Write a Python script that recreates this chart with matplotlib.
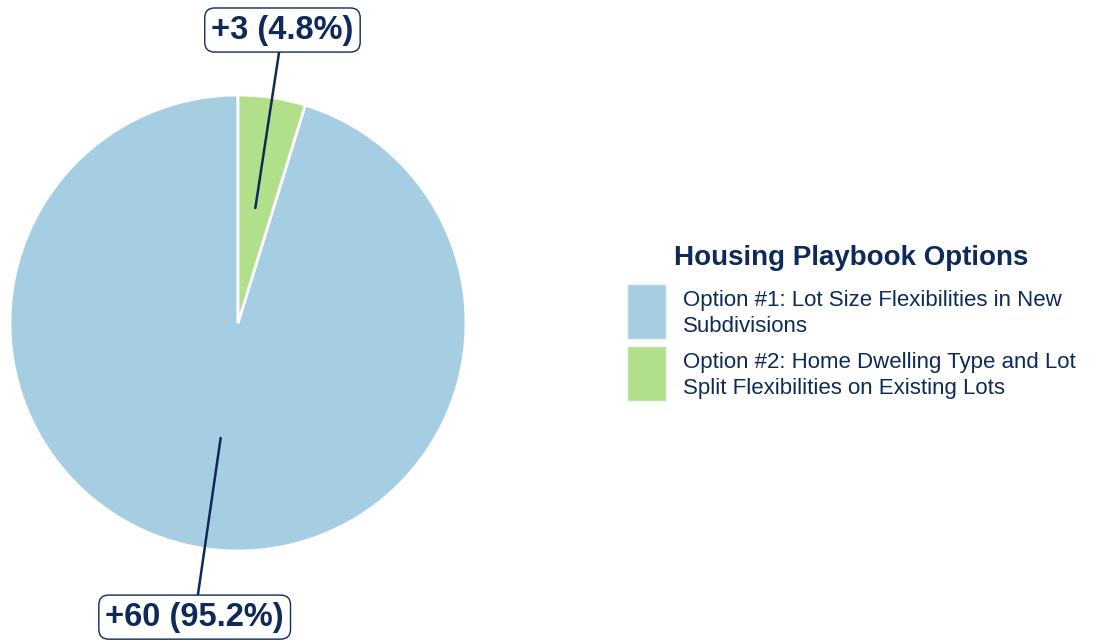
import matplotlib.pyplot as plt
import matplotlib.patches as mpatches
from matplotlib.legend_handler import HandlerPatch
import numpy as np

plt.rcParams['font.family'] = ['Liberation Sans', 'DejaVu Sans']

labels = ['Option #1: Lot Size Flexibilities in New\nSubdivisions',
          'Option #2: Home Dwelling Type and Lot\nSplit Flexibilities on Existing Lots']
counts = [60, 3]
colors = ['#a6cee3', '#b2df8a']
navy = '#0d2a58'

fig = plt.figure(figsize=(10.95, 6.4), dpi=100)
ax = fig.add_axes([10 / 1095, 89 / 640, 456 / 1095, 456 / 640])

wedges, _ = ax.pie(counts, colors=colors, startangle=90,
                   wedgeprops=dict(edgecolor='white', linewidth=2))
ax.set_xlim(-1, 1)
ax.set_ylim(-1, 1)

total = sum(counts)
# label box positions (axes data units)
label_pos = [(-0.19, -1.29), (0.195, 1.285)]
for w, n, pos in zip(wedges, counts, label_pos):
    ang = np.deg2rad((w.theta1 + w.theta2) / 2)
    start = (0.51 * np.cos(ang), 0.51 * np.sin(ang))
    ax.annotate(f'+{n} ({n / total * 100:.1f}%)', xy=start, xytext=pos,
                ha='center', va='center', fontsize=23.5, fontweight='bold', color=navy,
                bbox=dict(boxstyle='round,pad=0.2,rounding_size=0.3', fc='white', ec=navy, lw=1),
                arrowprops=dict(arrowstyle='-', color=navy, lw=1.8, shrinkA=0, shrinkB=0),
                annotation_clip=False)


def square(legend, orig_handle, xdescent, ydescent, width, height, fontsize):
    # lift the swatch a bit so it sits centred on the two text lines
    return mpatches.Rectangle((-xdescent, -ydescent + 3), width, height)


leg = fig.legend(wedges, labels, loc='center left', bbox_to_anchor=(0.5543, 0.492),
                 frameon=False, fontsize=16, handlelength=1.75, handleheight=3.45,
                 handletextpad=0.75, labelspacing=0.3,
                 handler_map={mpatches.Wedge: HandlerPatch(patch_func=square)},
                 title='Housing Playbook Options',
                 title_fontproperties={'size': 20, 'weight': 'bold'})
leg._legend_box.sep = 12
leg.get_title().set_color(navy)
for t in leg.get_texts():
    t.set_color(navy)
    t.set_linespacing(1.3)
for h in leg.legend_handles:
    h.set_edgecolor('#eef4f8')
    h.set_linewidth(1)

fig.savefig('out.png', dpi=100)
